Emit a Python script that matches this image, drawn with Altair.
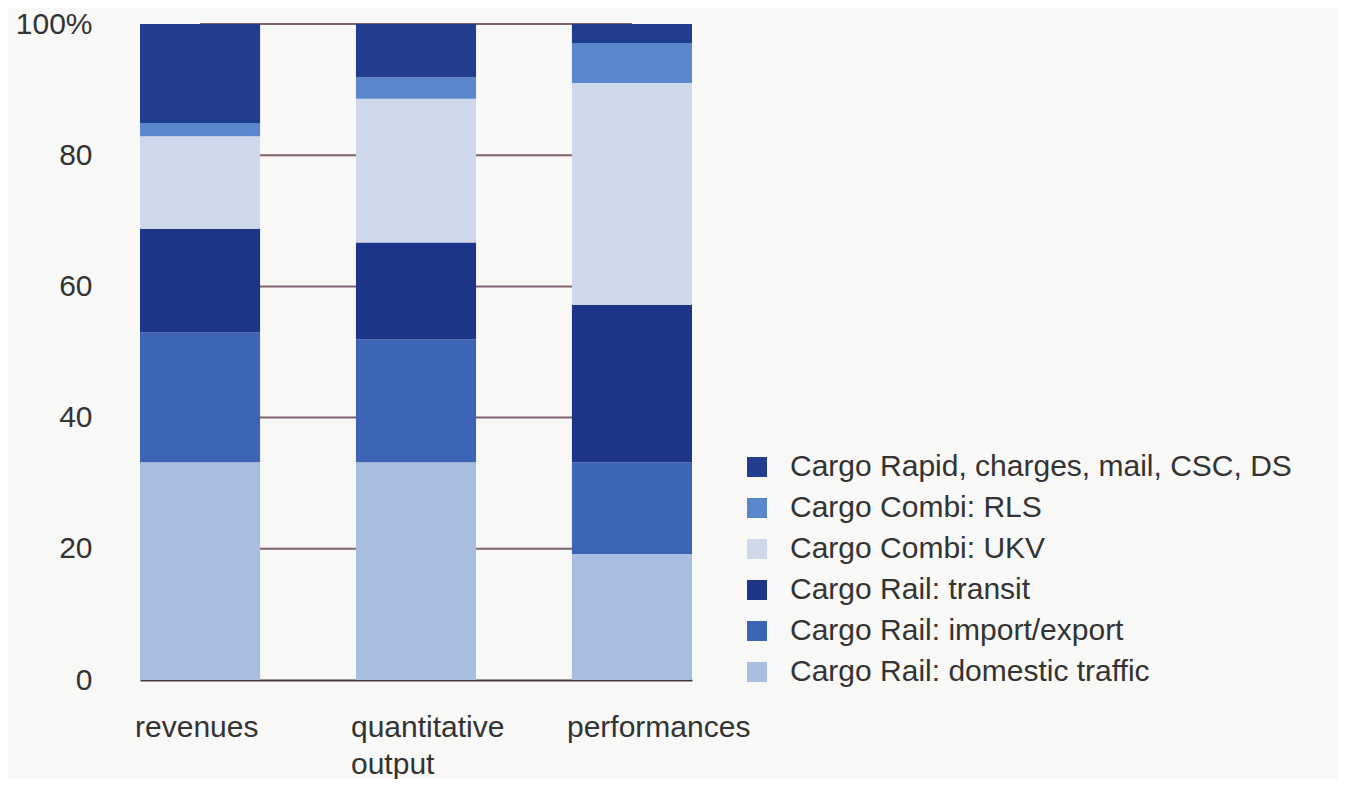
import altair as alt
import pandas as pd

categories = ["revenues", "quantitative output", "performances"]
series = [
    "Cargo Rail: domestic traffic",
    "Cargo Rail: import/export",
    "Cargo Rail: transit",
    "Cargo Combi: UKV",
    "Cargo Combi: RLS",
    "Cargo Rapid, charges, mail, CSC, DS",
]
colors = ["#a9bde1", "#3d65b5", "#1d3587", "#cfd7eb", "#5b87cc", "#223d8e"]
revenues = [33.2, 19.8, 15.8, 14.1, 2.0, 15.1]
quantitative_output = [33.2, 18.7, 14.8, 21.9, 3.3, 8.1]
performances = [19.2, 14.0, 24.0, 33.8, 6.1, 2.9]
grid_values = [20, 40, 60, 80, 100]

rows = []
for cat, vals in zip(categories, [revenues, quantitative_output, performances]):
    for i, (s, v) in enumerate(zip(series, vals)):
        rows.append({"category": cat, "series": s, "value": v, "idx": i})
df = pd.DataFrame(rows)
grid_df = pd.DataFrame({"y": grid_values, "start": categories[0], "end": categories[-1]})

font = "Liberation Sans"
fs = 30
text_color = "#333333"

x_scale = alt.Scale(domain=categories, paddingInner=0.444, paddingOuter=0)
y_scale = alt.Scale(domain=[0, 100])

grid = alt.Chart(grid_df).mark_rule(color="#806070", strokeWidth=2).encode(
    x=alt.X("start:N", scale=x_scale),
    x2="end:N",
    y=alt.Y("y:Q", scale=y_scale),
)

legend_order = list(reversed(series))
legend_colors = list(reversed(colors))

bars = alt.Chart(df).mark_bar().encode(
    x=alt.X(
        "category:N",
        scale=x_scale,
        sort=categories,
        axis=alt.Axis(
            title=None,
            labelAngle=0,
            labelAlign="left",
            labelOffset=-65,
            labelPadding=32,
            labelFontSize=fs,
            labelFont=font,
            labelColor=text_color,
            labelExpr="split(datum.label, ' ')",
            labelLineHeight=37,
            labelBaseline="top",
            labelLimit=400,
            labelOverlap=False,
            ticks=False,
            domain=True,
            domainColor="#4a3a45",
            domainWidth=2,
            grid=False,
        ),
    ),
    y=alt.Y(
        "value:Q",
        scale=y_scale,
        stack="zero",
        axis=alt.Axis(
            title=None,
            values=[0, 20, 40, 60, 80, 100],
            labelExpr="datum.value == 100 ? '100%' : datum.label",
            labelFontSize=fs,
            labelFont=font,
            labelColor=text_color,
            labelPadding=48,
            ticks=False,
            domain=False,
            grid=False,
        ),
    ),
    color=alt.Color(
        "series:N",
        scale=alt.Scale(domain=legend_order, range=legend_colors),
        legend=alt.Legend(
            title=None,
            orient="none",
            legendX=602,
            legendY=428,
            symbolType="square",
            symbolSize=400,
            symbolStrokeWidth=0,
            labelFontSize=fs,
            labelFont=font,
            labelColor=text_color,
            labelOffset=18,
            rowPadding=11,
            labelLimit=700,
            padding=0,
        ),
    ),
    order=alt.Order("idx:Q", sort="ascending"),
)

chart = (
    alt.layer(grid, bars)
    .properties(
        width=552,
        height=656,
        background="#f8f8f6",
        autosize=alt.AutoSizeParams(type="none"),
        padding={"left": 132, "top": 16, "right": 646, "bottom": 99},
    )
    .configure_view(stroke=None)
)

chart.save("out.html", embed_options={"renderer": "svg", "actions": False})
